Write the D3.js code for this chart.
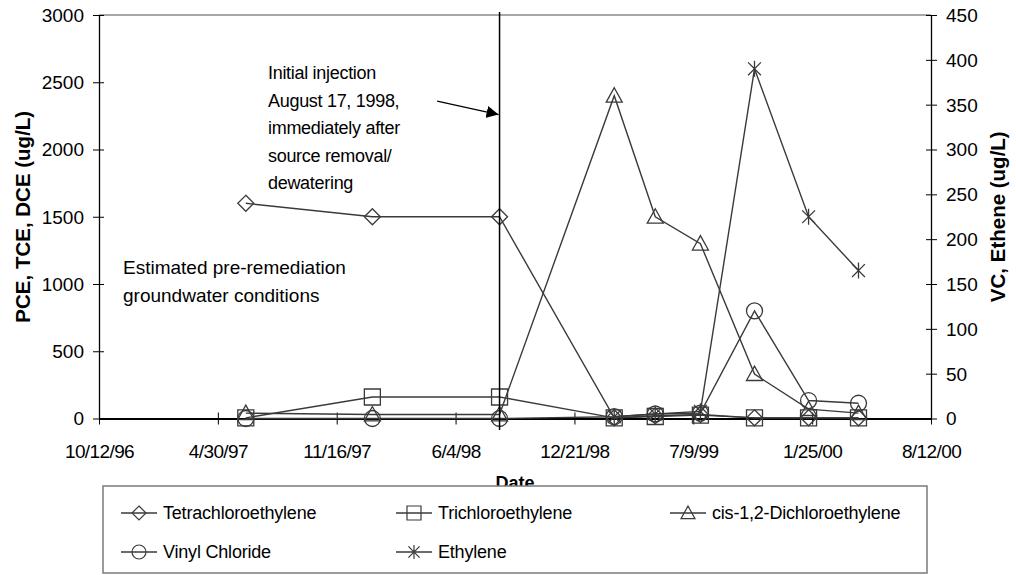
<!DOCTYPE html>
<html>
<head>
<meta charset="utf-8">
<script src="https://cdn.jsdelivr.net/npm/d3@7"></script>
<style>
  body { margin: 0; background: #fff; }
  text { font-family: "Liberation Sans", Arial, sans-serif; fill: #000; }
</style>
</head>
<body>
<svg id="chart" width="1016" height="575"></svg>
<script>
// Sampling dates (one row per monitoring event)
const sampleDates = ["1997-06-16", "1998-01-15", "1998-08-17", "1999-02-26", "1999-05-06",
                     "1999-07-21", "1999-10-20", "2000-01-19", "2000-04-12"];

// Left axis series (ug/L)
const pce = [1600, 1500, 1500, 5, 20, 30, 5, 5, 5];
const tce = [5, 160, 160, 5, 15, 25, 5, 5, 5];
const dce = [40, 30, 30, 2400, 1500, 1300, 330, 70, 40];

// Right axis series (ug/L)
const vc = [0, 0, 0, 2, 5, 6, 120, 20, 17];
const ethylene = [null, null, null, 2, 5, 8, 390, 225, 165];

// Axis ticks
const xTickLabels = ["10/12/96", "4/30/97", "11/16/97", "6/4/98", "12/21/98", "7/9/99", "1/25/00", "8/12/00"];
const leftTicks = [0, 500, 1000, 1500, 2000, 2500, 3000];
const rightTicks = [0, 50, 100, 150, 200, 250, 300, 350, 400, 450];

const injectionDate = "1998-08-17";

const svg = d3.select("#chart");
const parse = d3.utcParse("%Y-%m-%d");
const parseTick = d3.utcParse("%m/%d/%y");
const tickDates = xTickLabels.map(parseTick);

const plot = { left: 99, right: 931, top: 15, bottom: 418.5 };
const x = d3.scaleUtc().domain([tickDates[0], tickDates[tickDates.length - 1]]).range([plot.left, plot.right]);
const yL = d3.scaleLinear().domain([0, 3000]).range([plot.bottom, plot.top]);
const yR = d3.scaleLinear().domain([0, 450]).range([plot.bottom, plot.top]);

const ink = "#3a3a3a";

// Plot frame (top edge)
svg.append("line").attr("x1", plot.left).attr("x2", plot.right)
  .attr("y1", plot.top).attr("y2", plot.top)
  .attr("stroke", "#8a8a8a").attr("stroke-width", 1.5);

// Axes
const fmtX = (d, i) => xTickLabels[i];
const gx = svg.append("g").attr("transform", `translate(0,${plot.bottom})`)
  .call(d3.axisBottom(x).tickValues(tickDates).tickFormat(fmtX).tickSize(0));
const gl = svg.append("g").attr("transform", `translate(${plot.left},0)`)
  .call(d3.axisLeft(yL).tickValues(leftTicks).tickFormat(d3.format("d")).tickSize(0));
const gr = svg.append("g").attr("transform", `translate(${plot.right},0)`)
  .call(d3.axisRight(yR).tickValues(rightTicks).tickFormat(d3.format("d")).tickSize(0));

[gx, gl, gr].forEach(g => {
  g.select(".domain").attr("stroke", "#000").attr("stroke-width", 1.3);
  g.selectAll("text").style("font-size", "19px").style("font-family", "'Liberation Sans', Arial, sans-serif");
});
gx.select(".domain").attr("stroke-width", 2.2);
gx.selectAll("text").attr("dy", "0").attr("y", 39.5).style("letter-spacing", "-0.6px");
gl.selectAll("text").attr("x", -15).attr("dy", "0.34em");
gr.selectAll("text").attr("x", 15).attr("dy", "0.34em");

// Cross tick marks
gx.selectAll(".tick").append("line").attr("y1", -6).attr("y2", 6).attr("stroke", "#000").attr("stroke-width", 1);
gl.selectAll(".tick").append("line").attr("x1", -6).attr("x2", 5).attr("stroke", "#000").attr("stroke-width", 1);
gr.selectAll(".tick").append("line").attr("x1", -5).attr("x2", 6).attr("stroke", "#000").attr("stroke-width", 1);

// Marker shapes
const markers = {
  diamond: s => `M0,${-s}L${s},0L0,${s}L${-s},0Z`,
  square: s => `M${-s},${-s}H${s}V${s}H${-s}Z`,
  triangle: s => `M0,${-s}L${s},${s * 0.8}H${-s}Z`,
  circle: s => `M${s},0A${s},${s} 0 1,1 ${-s},0A${s},${s} 0 1,1 ${s},0Z`,
  star: s => `M${-s * 0.8},${-s * 0.8}L${s * 0.8},${s * 0.8}M${s * 0.8},${-s * 0.8}L${-s * 0.8},${s * 0.8}M0,${-s}V${s}`
};

const series = [
  { name: "Tetrachloroethylene", values: pce, y: yL, marker: "diamond" },
  { name: "Trichloroethylene", values: tce, y: yL, marker: "square" },
  { name: "cis-1,2-Dichloroethylene", values: dce, y: yL, marker: "triangle" },
  { name: "Vinyl Chloride", values: vc, y: yR, marker: "circle" },
  { name: "Ethylene", values: ethylene, y: yR, marker: "star" }
];

const dates = sampleDates.map(parse);
series.forEach(s => {
  const pts = dates.map((d, i) => ({ d, v: s.values[i] })).filter(p => p.v != null);
  const line = d3.line().x(p => x(p.d)).y(p => s.y(p.v));
  const g = svg.append("g");
  g.append("path").attr("d", line(pts)).attr("fill", "none")
    .attr("stroke", ink).attr("stroke-width", 1.4);
  g.selectAll("path.m").data(pts).join("path").attr("class", "m")
    .attr("transform", p => `translate(${x(p.d)},${s.y(p.v)})`)
    .attr("d", markers[s.marker](8))
    .attr("fill", "none").attr("stroke", ink).attr("stroke-width", 1.3);
});

// Injection marker line
const xi = x(parse(injectionDate));
svg.append("line").attr("x1", xi).attr("x2", xi).attr("y1", 12).attr("y2", 430)
  .attr("stroke", "#000").attr("stroke-width", 1.5);

// Annotation arrow
svg.append("defs").append("marker").attr("id", "arrow")
  .attr("viewBox", "0 0 10 10").attr("refX", 10).attr("refY", 5)
  .attr("markerWidth", 12).attr("markerHeight", 12).attr("markerUnits", "userSpaceOnUse")
  .attr("orient", "auto")
  .append("path").attr("d", "M0,0L10,5L0,10Z").attr("fill", "#000");
svg.append("line")
  .attr("x1", x(parse("1998-05-04"))).attr("y1", yL(2360))
  .attr("x2", xi - 1).attr("y2", yL(2260))
  .attr("stroke", "#000").attr("stroke-width", 1.3).attr("marker-end", "url(#arrow)");

// Annotation text
const note = ["Initial injection", "August 17, 1998,", "immediately after", "source removal/", "dewatering"];
svg.append("text").attr("x", 268).attr("y", 79).style("font-size", "18px").style("letter-spacing", "-0.3px")
  .selectAll("tspan").data(note).join("tspan")
  .attr("x", 268).attr("dy", (d, i) => i ? 27.5 : 0).text(d => d);

const note2 = ["Estimated pre-remediation", "groundwater conditions"];
svg.append("text").attr("x", 123).attr("y", 274).style("font-size", "19px")
  .selectAll("tspan").data(note2).join("tspan")
  .attr("x", 123).attr("dy", (d, i) => i ? 28 : 0).text(d => d);

// Axis titles
svg.append("text").attr("transform", `translate(30,${(plot.top + plot.bottom) / 2}) rotate(-90)`)
  .attr("text-anchor", "middle").style("font-size", "20.5px").style("font-weight", "bold")
  .text("PCE, TCE, DCE (ug/L)");
svg.append("text").attr("transform", `translate(1005,${(plot.top + plot.bottom) / 2}) rotate(-90)`)
  .attr("text-anchor", "middle").style("font-size", "20.5px").style("font-weight", "bold")
  .text("VC, Ethene (ug/L)");
svg.append("text").attr("x", (plot.left + plot.right) / 2).attr("y", 489)
  .attr("text-anchor", "middle").style("font-size", "18px").style("font-weight", "bold")
  .text("Date");

// Legend
const legend = svg.append("g");
legend.append("rect").attr("x", 103).attr("y", 486).attr("width", 824).attr("height", 87)
  .attr("fill", "#fff").attr("stroke", "#7a7a7a").attr("stroke-width", 1.5);
const legendPos = [[121, 513], [396, 513], [670, 513], [121, 552], [396, 552]];
series.forEach((s, i) => {
  const [lx, ly] = legendPos[i];
  const item = legend.append("g").attr("transform", `translate(${lx},${ly})`);
  item.append("line").attr("x1", 0).attr("x2", 36).attr("stroke", ink).attr("stroke-width", 1.4);
  item.append("path").attr("transform", "translate(18,0)").attr("d", markers[s.marker](7))
    .attr("fill", "none").attr("stroke", ink).attr("stroke-width", 1.2);
  item.append("text").attr("x", 42).attr("dy", "0.35em").style("font-size", "18px")
    .style("letter-spacing", "-0.2px").text(s.name);
});
</script>
</body>
</html>
